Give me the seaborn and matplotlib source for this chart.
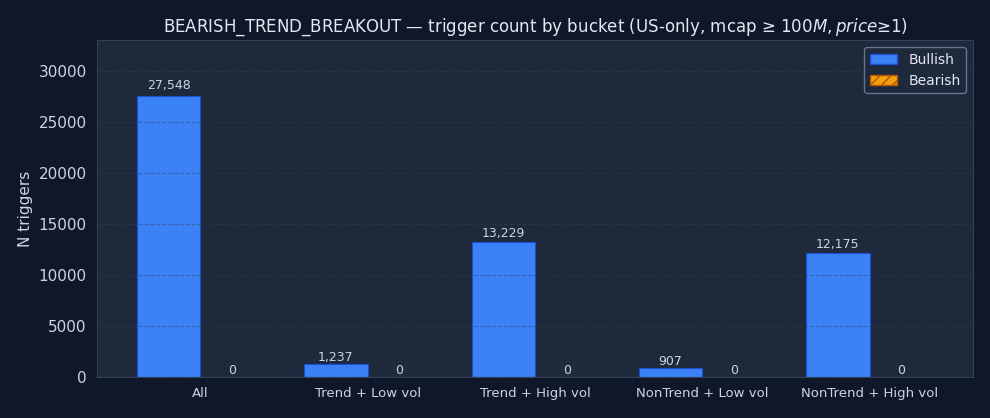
import pandas as pd
import numpy as np
import matplotlib
matplotlib.use("Agg")
import matplotlib.pyplot as plt
import seaborn as sns

# Data
buckets = ["All", "Trend + Low vol", "Trend + High vol", "NonTrend + Low vol", "NonTrend + High vol"]
bullish = [27548, 1237, 13229, 907, 12175]
bearish = [0, 0, 0, 0, 0]
directions = ["Bullish", "Bearish"]

FIG_BG = "#0f172a"
AX_BG = "#1e293b"
TEXT = "#cbd5e1"
SPINE = "#334155"
BLUE = "#3b82f6"
ORANGE = "#f59e0b"


def main():
    df = pd.DataFrame({
        "bucket": buckets * 2,
        "direction": ["Bullish"] * len(buckets) + ["Bearish"] * len(buckets),
        "count": bullish + bearish,
    })

    sns.set_style("dark")
    plt.rcParams["font.family"] = ["DejaVu Sans"]

    fig, ax = plt.subplots(figsize=(9.9, 4.18), dpi=100)
    fig.patch.set_facecolor(FIG_BG)
    ax.set_facecolor(AX_BG)

    sns.barplot(data=df, x="bucket", y="count", hue="direction",
                hue_order=directions, palette={"Bullish": BLUE, "Bearish": ORANGE},
                width=0.76, ax=ax, errorbar=None, saturation=1)

    # style bars per series + value labels
    for cont, name in zip(ax.containers, directions):
        for p in cont:
            if name == "Bullish":
                p.set_edgecolor("#1d4ed8")
                p.set_linewidth(0.8)
            else:
                p.set_edgecolor("#b45309")
                p.set_hatch("///")
                p.set_linewidth(0)
            h = p.get_height()
            ax.text(p.get_x() + p.get_width() / 2, h * 1.017, f"{int(h):,}",
                    ha="center", va="bottom", color=TEXT, fontsize=9)

    ax.set_ylim(0, max(bullish) * 1.2)
    ax.set_xlim(-0.618, len(buckets) - 1 + 0.618)
    ax.grid(axis="y", linestyle="--", color="#334155", alpha=0.45, linewidth=0.8)
    ax.set_axisbelow(False)

    ax.set_title("BEARISH_TREND_BREAKOUT — trigger count by bucket (US-only, mcap ≥ $100M, price≥$1)",
                 color="#e2e8f0", fontsize=12)
    ax.set_xlabel("")
    ax.set_ylabel("N triggers", color=TEXT, fontsize=11)
    ax.tick_params(axis="x", colors=TEXT, labelsize=9.5, length=4)
    ax.tick_params(axis="y", colors=TEXT, labelsize=11, length=4)
    ax.tick_params(axis="both", which="both", color=TEXT)
    for s in ax.spines.values():
        s.set_color(SPINE)

    leg = ax.legend(loc="upper right", fontsize=10, facecolor=AX_BG,
                    edgecolor="#64748b", labelcolor="#e2e8f0", framealpha=1)
    for h, name in zip(leg.legend_handles, directions):
        if name == "Bullish":
            h.set_edgecolor("#1d4ed8")
        else:
            h.set_edgecolor("#b45309")
            h.set_hatch("///")
        h.set_linewidth(1)

    plt.subplots_adjust(left=0.098, right=0.983, top=0.904, bottom=0.098)
    plt.savefig("out.png", facecolor=FIG_BG)
    plt.close()


if __name__ == "__main__":
    main()
